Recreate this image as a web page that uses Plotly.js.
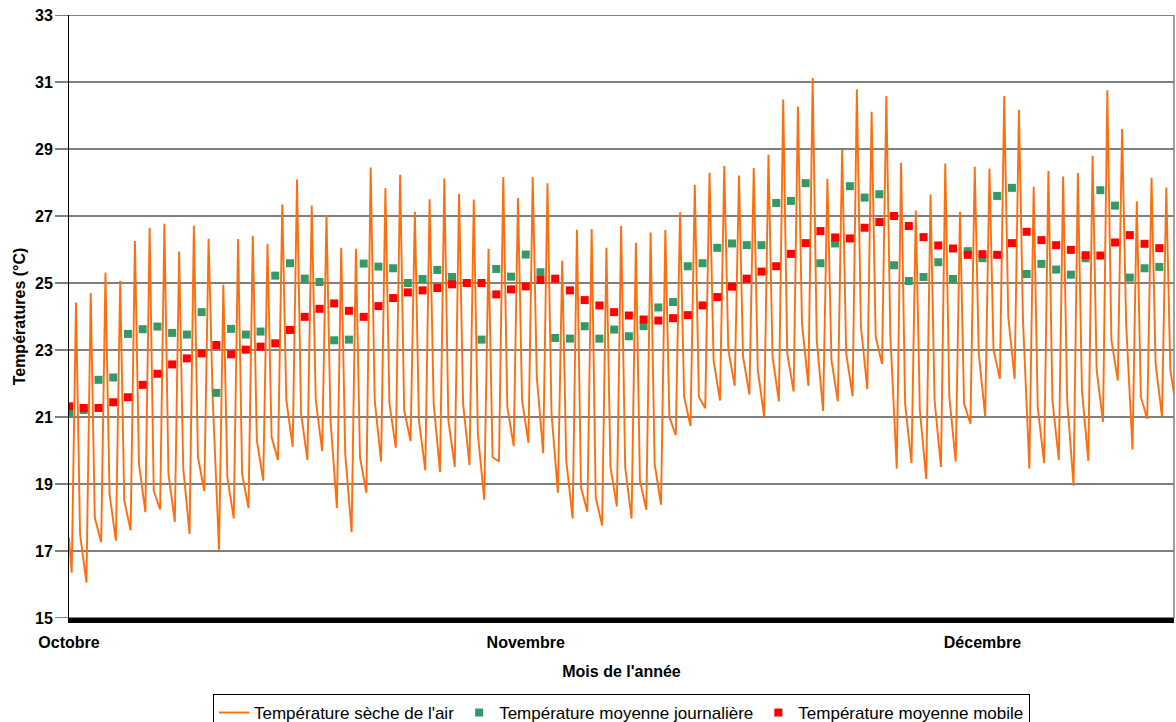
<!DOCTYPE html>
<html>
<head>
<meta charset="utf-8">
<script src="https://cdn.plot.ly/plotly-3.0.1.min.js"></script>
<style>
html,body{margin:0;padding:0;background:#fff;}
#chart{width:1176px;height:722px;}
</style>
</head>
<body>
<div id="chart"></div>
<script>
// ---- Data ----
const monthLabels = ['Octobre', 'Novembre', 'Décembre'];
const monthStartDays = [0, 31, 62];
const yTicks = [15, 17, 19, 21, 23, 25, 27, 29, 31, 33];

// Daily mean temperature (green squares), one per day from 1 October
const dailyMean = [
  21.11, 21.21, 22.11, 22.18, 23.48, 23.62, 23.70, 23.51, 23.46, 24.13,
  21.72, 23.63, 23.46, 23.55, 25.22, 25.59, 25.13, 25.03, 23.29, 23.31,
  25.58, 25.49, 25.44, 25.00, 25.12, 25.39, 25.18, 25.00, 23.31, 25.42,
  25.19, 25.85, 25.32, 23.36, 23.34, 23.71, 23.34, 23.61, 23.41, 23.71,
  24.27, 24.43, 25.50, 25.59, 26.05, 26.18, 26.13, 26.13, 27.39, 27.45,
  27.98, 25.59, 26.18, 27.89, 27.55, 27.65, 25.53, 25.06, 25.18, 25.62,
  25.12, 25.95, 25.74, 27.60, 27.84, 25.27, 25.57, 25.40, 25.25, 25.74,
  27.77, 27.31, 25.16, 25.44, 25.48
];

// Moving mean temperature (red squares)
const movingMean = [
  21.32, 21.27, 21.27, 21.44, 21.59, 21.96, 22.29, 22.57, 22.75, 22.90,
  23.15, 22.87, 23.01, 23.10, 23.20, 23.60, 23.99, 24.23, 24.39, 24.17,
  23.99, 24.31, 24.55, 24.72, 24.78, 24.85, 24.96, 25.00, 25.00, 24.66,
  24.81, 24.90, 25.09, 25.13, 24.78, 24.49, 24.33, 24.13, 24.03, 23.91,
  23.88, 23.95, 24.04, 24.33, 24.58, 24.89, 25.13, 25.34, 25.50, 25.87,
  26.19, 26.55, 26.36, 26.33, 26.65, 26.82, 27.00, 26.70, 26.37, 26.12,
  26.03, 25.84, 25.86, 25.84, 26.19, 26.53, 26.28, 26.13, 25.99, 25.83,
  25.82, 26.21, 26.43, 26.17, 26.04
];

// Dry-bulb air temperature: early-morning minimum of each day
const dailyMin = [
  16.35, 16.06, 17.26, 17.31, 17.62, 18.16, 18.24, 17.87, 17.51, 18.79,
  17.04, 17.97, 18.28, 19.10, 19.72, 20.11, 19.72, 19.98, 18.28, 17.56,
  18.74, 19.67, 20.08, 20.28, 19.41, 19.36, 19.51, 19.56, 18.53, 19.67,
  20.13, 20.23, 19.92, 18.74, 17.97, 18.17, 17.76, 18.33, 17.97, 18.23,
  18.38, 20.46, 20.73, 21.26, 21.49, 21.93, 21.67, 21.01, 21.47, 21.76,
  21.93, 21.18, 21.47, 21.62, 21.83, 22.58, 19.46, 19.62, 19.15, 19.51,
  19.67, 20.80, 21.01, 22.14, 22.14, 19.46, 19.62, 19.72, 18.95, 19.69,
  20.85, 22.09, 20.03, 20.95, 21.01
];

// Dry-bulb air temperature: midday maximum of each day
const dailyMax = [
  24.42, 24.70, 25.31, 25.07, 26.25, 26.65, 26.77, 25.94, 26.71, 26.32,
  24.95, 26.31, 26.41, 26.17, 27.34, 28.09, 27.31, 27.03, 26.05, 26.02,
  28.45, 27.83, 28.23, 27.13, 27.50, 28.12, 27.66, 27.49, 26.02, 28.16,
  27.54, 28.16, 27.98, 25.66, 26.59, 26.61, 26.05, 26.70, 26.20, 26.51,
  26.58, 27.11, 27.93, 28.29, 28.49, 28.21, 28.43, 28.83, 30.48, 30.27,
  31.12, 28.11, 28.98, 30.78, 30.11, 30.58, 28.59, 27.16, 27.64, 28.57,
  27.13, 28.47, 28.42, 30.58, 30.17, 27.87, 28.34, 28.18, 28.28, 28.80,
  30.75, 29.60, 27.44, 28.14, 27.85
];

// Dry-bulb air temperature: evening level of each day
const eveningTemp = [
  17.5, 18.0, 18.7, 18.5, 19.6, 18.8, 19.3, 19.5, 19.8, 21.6,
  19.2, 19.3, 20.3, 20.4, 21.5, 21.1, 21.5, 20.9, 19.9, 19.8,
  21.5, 21.4, 21.2, 20.9, 21.4, 20.9, 21.4, 20.5, 19.8, 21.3,
  21.5, 22.2, 21.1, 19.7, 18.9, 18.6, 19.5, 19.5, 19.1, 19.6,
  21.0, 21.6, 21.6, 22.7, 23.0, 22.8, 22.4, 22.8, 22.9, 23.8,
  23.3, 22.7, 22.9, 23.7, 23.4, 23.4, 21.4, 21.2, 21.5, 21.6,
  21.4, 22.9, 23.0, 24.0, 23.9, 21.3, 21.5, 21.5, 21.8, 22.4,
  23.3, 23.8, 21.6, 22.6, 22.4
];

const lineStartValue = 17.4;   // value at the very start (1 Oct, 0h)
const lineEndValue = 21.7;     // value at the right edge

// Hours of the day at which the readings above occur
const hourMin = 4.4;
const hourMax = 11.4;
const hourEvening = 18.0;

// ---- Build traces ----
const nDays = dailyMean.length;
const dayIdx = dailyMean.map((_, i) => i);

const lineX = [0], lineY = [lineStartValue];
for (let i = 0; i < nDays; i++) {
  lineX.push(i + hourMin / 24, i + hourMax / 24, i + hourEvening / 24);
  lineY.push(dailyMin[i], dailyMax[i], eveningTemp[i]);
}
lineX.push(nDays);
lineY.push(lineEndValue);

const FONT = '"Liberation Sans", Arial, Helvetica, sans-serif';

const traces = [
  {
    type: 'scatter', mode: 'lines', name: "Température sèche de l'air",
    x: lineX, y: lineY,
    line: {color: '#FF6E0E', width: 1.9},
    hoverinfo: 'skip'
  },
  {
    type: 'scatter', mode: 'markers', name: 'Température moyenne journalière',
    x: dayIdx, y: dailyMean,
    marker: {symbol: 'square', size: 8, color: '#339966', line: {width: 0}}
  },
  {
    type: 'scatter', mode: 'markers', name: 'Température moyenne mobile',
    x: dayIdx, y: movingMean,
    marker: {symbol: 'square', size: 8, color: '#FF0000', line: {width: 0}}
  }
];

// Gridlines (with their tick stubs to the left of the axis)
const plotW = 1176 - 69 - 2;
const stub = -14 / plotW;
const shapes = yTicks.map(v => ({
  type: 'line', layer: 'below', xref: 'paper', yref: 'y',
  x0: stub, x1: 1, y0: v, y1: v,
  line: {color: v >= 23 ? '#808080' : '#000000', width: v >= 23 ? 2 : 1}
}));
shapes.push({
  type: 'line', layer: 'above', xref: 'paper', yref: 'paper',
  x0: 1, x1: 1, y0: 0, y1: 1,
  line: {color: '#808080', width: 1.5}
});

const layout = {
  width: 1176, height: 722,
  margin: {l: 69, r: 2, t: 15, b: 104, pad: 0, autoexpand: false},
  paper_bgcolor: '#ffffff', plot_bgcolor: '#ffffff',
  font: {family: FONT, color: '#000000'},
  showlegend: true,
  xaxis: {
    range: [0, nDays],
    tickmode: 'array', tickvals: monthStartDays, ticktext: monthLabels,
    tickfont: {family: FONT, size: 16, weight: 'bold', color: '#000'},
    ticks: 'outside', ticklen: 6, tickcolor: 'rgba(0,0,0,0)',
    showgrid: false, zeroline: false,
    showline: true, linecolor: '#000000', linewidth: 5,
    title: {text: "Mois de l'année", font: {family: FONT, size: 16, weight: 'bold', color: '#000'}, standoff: 17},
    automargin: false, fixedrange: true
  },
  yaxis: {
    range: [15, 33],
    tickmode: 'array', tickvals: yTicks,
    tickfont: {family: FONT, size: 16, weight: 'bold', color: '#000'},
    ticks: 'outside', ticklen: 12, tickcolor: 'rgba(0,0,0,0)',
    showgrid: false, zeroline: false,
    showline: true, linecolor: '#000000', linewidth: 1,
    title: {text: 'Températures (°C)', font: {family: FONT, size: 16, weight: 'bold', color: '#000'}, standoff: 5},
    automargin: false, fixedrange: true
  },
  legend: {
    orientation: 'h', x: 0.5, xanchor: 'center', y: -0.126, yanchor: 'top',
    bordercolor: '#000000', borderwidth: 1, bgcolor: '#ffffff',
    font: {family: FONT, size: 17, color: '#000'},
    traceorder: 'normal'
  },
  shapes: shapes
};

Plotly.newPlot('chart', traces, layout, {displayModeBar: false, staticPlot: true});
</script>
</body>
</html>
